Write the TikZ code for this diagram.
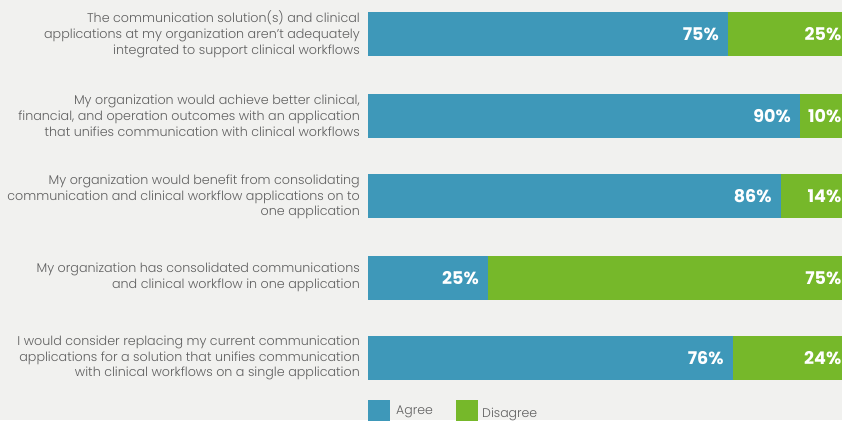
\documentclass[tikz,border=0pt]{standalone}
\usepackage{fontspec}
\setmainfont{Poppins}
\newfontfamily\lightfont{Poppins Light}
\definecolor{bgc}{HTML}{F1F1EF}
\definecolor{agreec}{HTML}{3E98B9}
\definecolor{disc}{HTML}{76B82A}
\definecolor{txtc}{HTML}{606060}
\tikzset{
  qlabel/.style={anchor=east,align=right,text=txtc,font=\lightfont\fontsize{12.7}{15.8}\selectfont,inner sep=0pt},
  pct/.style={anchor=east,text=white,font=\bfseries\fontsize{17.5}{17.5}\selectfont,inner sep=0pt},
  legtxt/.style={anchor=base west,text=txtc,font=\lightfont\fontsize{12.5}{12.5}\selectfont,inner sep=0pt}
}
\begin{document}
\begin{tikzpicture}[x=1pt,y=-1pt]
\useasboundingbox (0,0) rectangle (842,420);
\fill[bgc] (0,0) rectangle (842,420);
\clip (0,0) rectangle (842,420);
\foreach \t/\a/\n in {12/75/1, 94/90/2, 174/86/3, 256/25/4, 336/76/5}{
  \pgfmathsetmacro{\b}{368+4.8*\a}
  \pgfmathtruncatemacro{\d}{100-\a}
  \fill[agreec] (368,\t) rectangle (\b,\t+44);
  \fill[disc] (\b,\t) rectangle (848,\t+44);
  \node[pct] (pa\n) at (\b-9,\t+22.5) {\a\%};
  \node[pct] (pd\n) at (841.5,\t+22.5) {\d\%};
}
\node[qlabel] (q1) at (360,34) {The communication solution(s) and clinical\\applications at my organization aren’t adequately\\integrated to support clinical workflows};
\node[qlabel] (q2) at (360,116) {My organization would achieve better clinical,\\financial, and operation outcomes with an application\\that unifies communication with clinical workflows};
\node[qlabel] (q3) at (360,197) {My organization would benefit from consolidating\\communication and clinical workflow applications on to\\one application};
\node[qlabel] (q4) at (360,277) {My organization has consolidated communications\\and clinical workflow in one application};
\node[qlabel] (q5) at (360,358) {I would consider replacing my current communication\\applications for a solution that unifies communication\\with clinical workflows on a single application};
\fill[agreec] (368,400) rectangle (390,422);
\node[legtxt] (la) at (396,414) {Agree};
\fill[disc] (456,400) rectangle (478,422);
\node[legtxt] (ld) at (482,417) {Disagree};
\end{tikzpicture}
\end{document}
